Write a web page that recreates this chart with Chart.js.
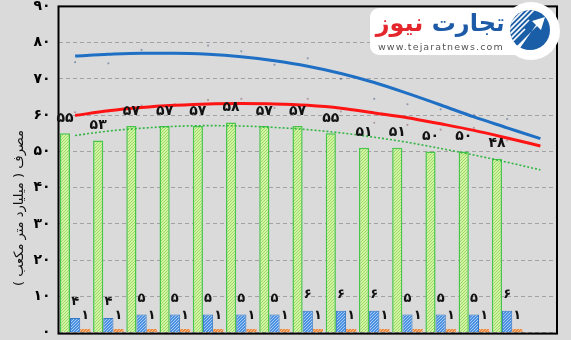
<!DOCTYPE html>
<html>
<head>
<meta charset="utf-8">
<script src="https://cdn.jsdelivr.net/npm/chart.js@4.4.1/dist/chart.umd.min.js"></script>
<style>
  html, body { margin: 0; padding: 0; background: #dadada; }
  #wrap { position: relative; width: 571px; height: 340px; overflow: hidden; background: #dadada; }
  #c { position: absolute; left: 0; top: -10px; }
  #badge { position: absolute; left: 370px; top: 8px; width: 160px; height: 47px; background: #fff; border-radius: 9px; }
  #brand { position: absolute; top: 8px; right: 66px; direction: rtl; white-space: nowrap;
           font: bold 24px "DejaVu Sans", sans-serif; line-height: 30px; }
  #brand .b { color: #1c5aa8; }
  #brand .r { color: #e4262d; }
  #site { position: absolute; top: 41px; left: 378px; font: 9.5px "DejaVu Sans", sans-serif;
          letter-spacing: 1.1px; color: #555; white-space: nowrap; }
  #mark { position: absolute; left: 501px; top: 1px; }
</style>
</head>
<body>
<div id="wrap">
  <canvas id="c" width="571" height="359"></canvas>
  <div id="badge"></div>
  <div id="brand"><span class="b">تجارت</span> <span class="r">نیوز</span></div>
  <div id="site">www.tejaratnews.com</div>
  <svg id="mark" width="60" height="60" viewBox="0 0 60 60">
    <defs>
      <clipPath id="disc"><circle cx="29" cy="29" r="20"/></clipPath>
    </defs>
    <circle cx="30" cy="30" r="29" fill="#fff"/>
    <circle cx="29" cy="29" r="20" fill="#1b5ea8"/>
    <g clip-path="url(#disc)" stroke="#fff" stroke-width="1.6">
      <line x1="5" y1="27" x2="27" y2="5"/>
      <line x1="5" y1="32" x2="32" y2="5"/>
      <line x1="6" y1="36" x2="36" y2="6"/>
      <line x1="7" y1="40" x2="28" y2="19"/>
      <line x1="9" y1="43" x2="24" y2="28"/>
    </g>
    <polygon points="16,45 36,25 31,20 44,16 40,29 35,24 19,47" fill="#fff"/>
  </svg>
</div>
<script>
// Periods along the x axis; the last slot holds only the one-step trend forecast
const periods = ['1','2','3','4','5','6','7','8','9','10','11','12','13','14','15'];

// Bar series (billion cubic metres)
const mainUse  = [55, 53, 57, 57, 57, 58, 57, 57, 55, 51, 51, 50, 50, 48, null];
const blueUse  = [4, 4, 5, 5, 5, 5, 5, 6, 6, 6, 5, 5, 5, 6, null];
const orangeUse = [1, 1, 1, 1, 1, 1, 1, 1, 1, 1, 1, 1, 1, 1, null];

// Point series shown as small markers
const bluePoints = [74.6, 74.3, 78.0, 77.0, 79.2, 77.6, 73.9, 75.7, 70.0, 64.5, 63.0, 61.6, 60.0, 58.9, null];
const redPoints  = [60.8, 61.0, 62.6, 63.0, 64.2, 64.5, 62.0, 64.5, 61.0, 57.9, 57.3, 56.0, 56.5, 53.0, null];

// Trend curves (extend one period forward)
const blueTrend  = [76.3, 76.8, 77.1, 77.1, 76.8, 76.1, 75.0, 73.5, 71.5, 69.0, 66.0, 62.8, 59.5, 56.5, 53.5];
const redTrend   = [59.9, 61.2, 62.1, 62.7, 63.1, 63.2, 63.1, 62.7, 61.9, 60.6, 59.3, 57.6, 55.8, 53.7, 51.5];
const greenTrend = [54.4, 55.6, 56.4, 56.9, 57.1, 57.0, 56.6, 56.0, 55.1, 53.9, 52.5, 50.8, 49.0, 47.0, 44.9];

// Axis range
const yMin = 0, yMax = 90, yStep = 10;
const yTitle = '\u202Bمصرف ( میلیارد متر مکعب )\u202C';

const faDigits = '۰۱۲۳۴۵۶۷۸۹';
const toFa = v => String(v).replace(/\d/g, d => faDigits[d]);

function makePattern(bg, fg) {
  const p = document.createElement('canvas');
  p.width = 3; p.height = 3;
  const g = p.getContext('2d');
  g.fillStyle = bg; g.fillRect(0, 0, 3, 3);
  g.fillStyle = fg;
  g.fillRect(0, 0, 1, 1); g.fillRect(2, 1, 1, 1); g.fillRect(1, 2, 1, 1);
  return g.createPattern(p, 'repeat');
}
const ctx0 = document.getElementById('c').getContext('2d');
const greenFill  = makePattern('#d2f4a4', '#9ad964');
const blueFill   = makePattern('#4a90e2', '#a8ccf4');
const orangeFill = makePattern('#ee8a40', '#f8bc8c');

const FONT = '"DejaVu Sans", sans-serif';

// Plot frame (under the bars), value labels and the rotated axis title
const decorations = {
  id: 'decorations',
  beforeDatasetsDraw(chart) {
    const ctx = chart.ctx;
    const a = chart.chartArea;
    ctx.save();
    ctx.strokeStyle = '#000';
    ctx.lineWidth = 2;
    ctx.strokeRect(a.left, a.top, a.right - a.left, a.bottom - a.top + 1);
    ctx.restore();
  },
  afterDatasetsDraw(chart) {
    const ctx = chart.ctx;
    ctx.save();
    ctx.fillStyle = '#111';
    ctx.textAlign = 'center';
    ctx.textBaseline = 'middle';
    const specs = [
      { index: 0, lift: 15, font: 'bold 14px ' + FONT },
      { index: 1, lift: 16, font: 'bold 13px ' + FONT },
      { index: 2, lift: 13, font: 'bold 13px ' + FONT }
    ];
    specs.forEach(s => {
      const values = chart.data.datasets[s.index].data;
      const meta = chart.getDatasetMeta(s.index);
      ctx.font = s.font;
      meta.data.forEach((el, i) => {
        if (values[i] == null) return;
        ctx.fillText(toFa(values[i]), el.x, el.y - s.lift);
      });
    });
    ctx.restore();
  },
  afterDraw(chart) {
    const ctx = chart.ctx;
    ctx.save();
    ctx.translate(20, 218);
    ctx.rotate(-Math.PI / 2);
    ctx.direction = 'rtl';
    ctx.fillStyle = '#111';
    ctx.textAlign = 'center';
    ctx.textBaseline = 'middle';
    ctx.font = '13px ' + FONT;
    ctx.fillText(yTitle, 0, 0);
    ctx.restore();
  }
};

new Chart(ctx0, {
  data: {
    labels: periods,
    datasets: [
      { type: 'bar', data: mainUse, backgroundColor: greenFill, borderColor: '#48c64a', borderWidth: 1.5, order: 3,
        categoryPercentage: 0.92, barPercentage: 1.0 },
      { type: 'bar', data: blueUse, backgroundColor: blueFill, borderColor: '#3478c8', borderWidth: 1, order: 3,
        categoryPercentage: 0.92, barPercentage: 1.0 },
      { type: 'bar', data: orangeUse, backgroundColor: orangeFill, borderColor: '#f09050', borderWidth: 0, order: 3,
        categoryPercentage: 0.92, barPercentage: 1.0 },
      { type: 'line', data: bluePoints, showLine: false, pointRadius: 1.1, pointBorderWidth: 0,
        pointBackgroundColor: 'rgba(90,110,150,0.6)', order: 2 },
      { type: 'line', data: redPoints, showLine: false, pointRadius: 1.1, pointBorderWidth: 0,
        pointBackgroundColor: 'rgba(150,110,120,0.6)', order: 2 },
      { type: 'line', data: greenTrend, borderColor: '#2fb540', borderWidth: 1.6, borderDash: [2, 2],
        pointRadius: 0, cubicInterpolationMode: 'monotone', fill: false, order: 1 },
      { type: 'line', data: redTrend, borderColor: '#ff1414', borderWidth: 3,
        pointRadius: 0, cubicInterpolationMode: 'monotone', fill: false, order: 0 },
      { type: 'line', data: blueTrend, borderColor: '#1f70c4', borderWidth: 3,
        pointRadius: 0, cubicInterpolationMode: 'monotone', fill: false, order: 0 }
    ]
  },
  options: {
    responsive: false,
    animation: false,
    devicePixelRatio: 1,
    layout: { padding: { top: 10, bottom: 10, left: 0, right: 14 } },
    plugins: { legend: { display: false }, tooltip: { enabled: false } },
    scales: {
      x: { display: false, offset: true },
      y: {
        min: yMin, max: yMax,
        afterFit(scale) { scale.width = 58.5; },
        border: { display: false, dash: [4, 3] },
        grid: { color: '#a2a2a2', lineWidth: 1, drawTicks: false },
        ticks: {
          stepSize: yStep, padding: 8, color: '#000',
          font: { family: FONT, weight: 'bold', size: 14 },
          callback: v => toFa(v)
        }
      }
    }
  },
  plugins: [decorations]
});
</script>
</body>
</html>
